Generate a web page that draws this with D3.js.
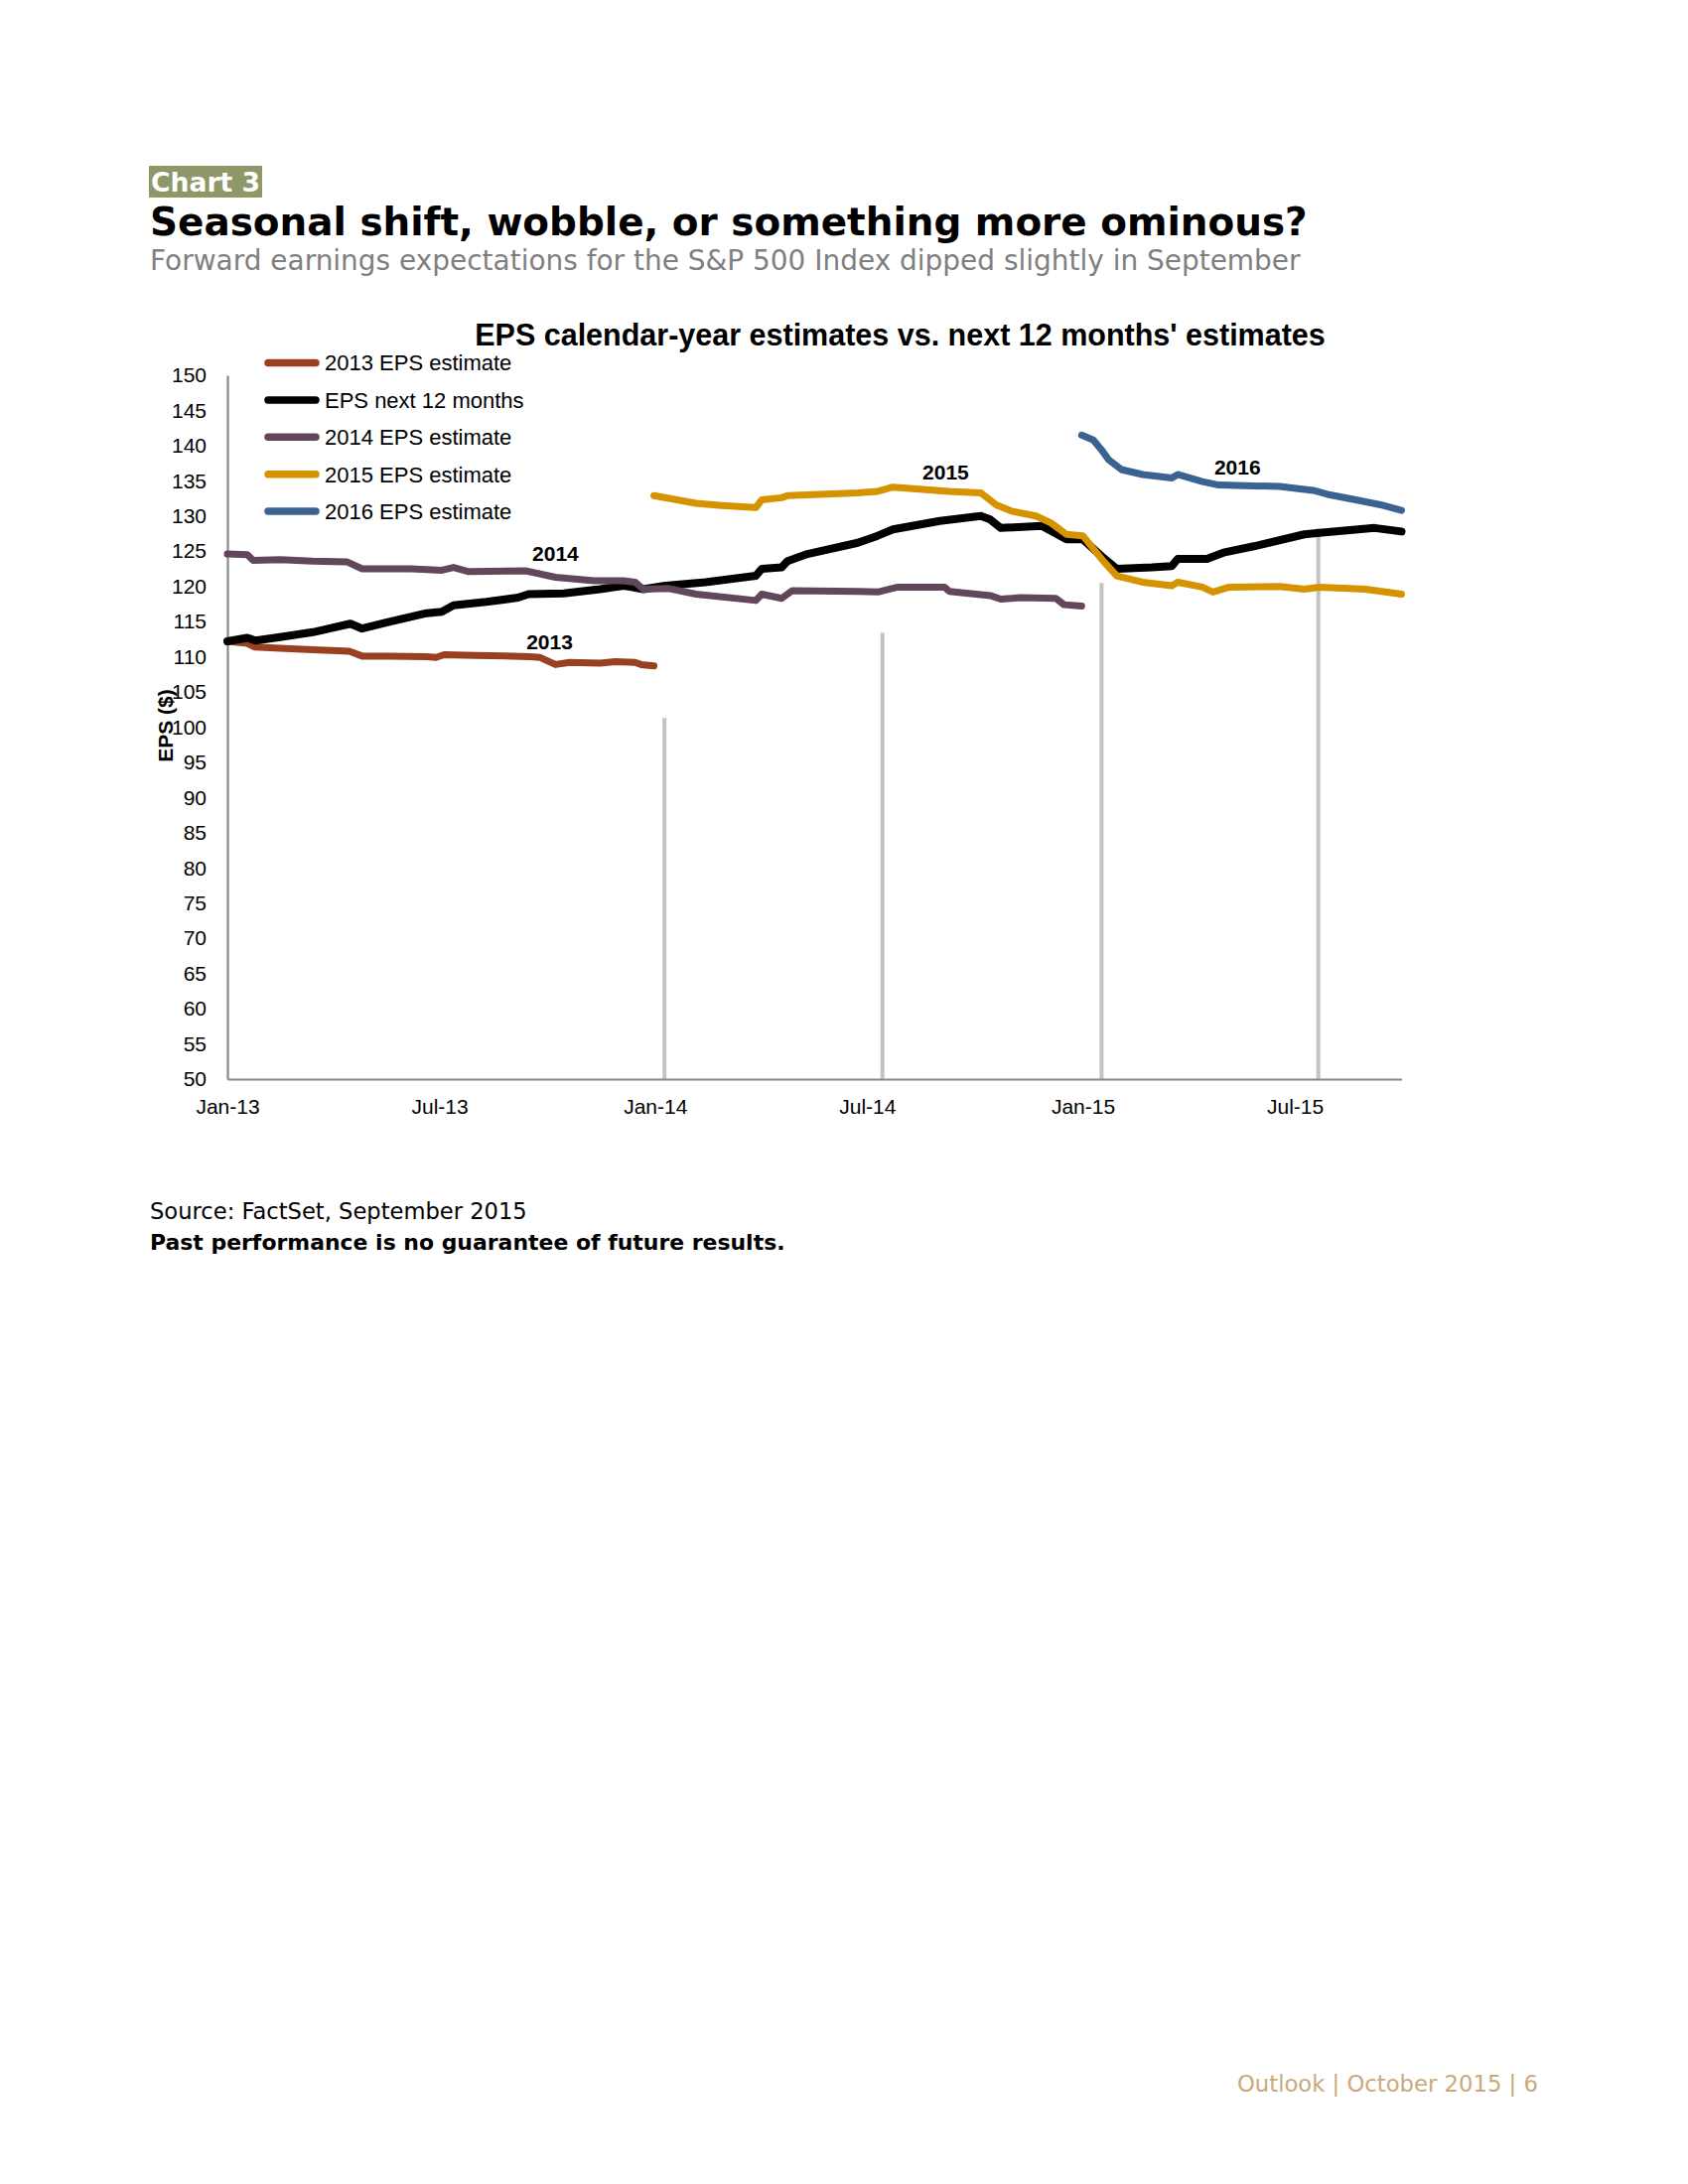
<!DOCTYPE html>
<html><head><meta charset="utf-8">
<script src="https://cdn.jsdelivr.net/npm/d3@7"></script>
<style>body{margin:0;background:#fff}</style>
</head><body>
<svg id="c" width="1700" height="2200" xmlns="http://www.w3.org/2000/svg"></svg>
<script>
// ---------- DATA ----------
const eps2013 = [
  ["2013-01-01",112.2],["2013-01-18",111.9],["2013-01-24",111.4],["2013-02-15",111.2],
  ["2013-03-15",111.0],["2013-04-15",110.8],["2013-04-26",110.1],["2013-05-20",110.1],
  ["2013-06-20",110.0],["2013-06-28",109.9],["2013-07-05",110.3],["2013-08-01",110.2],
  ["2013-09-01",110.1],["2013-09-16",110.0],["2013-09-25",109.9],["2013-10-08",108.9],
  ["2013-10-20",109.2],["2013-11-15",109.1],["2013-11-28",109.3],["2013-12-15",109.2],
  ["2013-12-20",108.9],["2013-12-31",108.7]
];
const epsNext12 = [
  ["2013-01-01",112.2],["2013-01-18",112.7],["2013-01-25",112.3],["2013-02-15",112.8],
  ["2013-03-15",113.5],["2013-04-16",114.7],["2013-04-26",114.0],["2013-05-20",115.0],
  ["2013-06-20",116.2],["2013-07-03",116.4],["2013-07-13",117.3],["2013-08-10",117.8],
  ["2013-09-06",118.4],["2013-09-15",118.9],["2013-10-15",119.0],["2013-11-15",119.6],
  ["2013-12-05",120.1],["2013-12-12",119.9],["2013-12-22",119.6],["2014-01-10",120.1],
  ["2014-02-13",120.6],["2014-03-28",121.5],["2014-04-02",122.5],["2014-04-19",122.7],
  ["2014-04-24",123.6],["2014-05-11",124.6],["2014-06-23",126.2],["2014-07-10",127.2],
  ["2014-07-23",128.1],["2014-09-01",129.3],["2014-10-06",130.0],["2014-10-14",129.5],
  ["2014-10-23",128.3],["2014-11-27",128.6],["2014-12-18",126.7],["2015-01-01",126.7],
  ["2015-01-17",124.3],["2015-01-30",122.5],["2015-03-01",122.7],["2015-03-18",122.9],
  ["2015-03-23",123.9],["2015-04-17",123.9],["2015-05-01",124.8],["2015-05-27",125.7],
  ["2015-07-09",127.4],["2015-07-22",127.6],["2015-09-07",128.3],["2015-09-30",127.8]
];
const eps2014 = [
  ["2013-01-01",124.6],["2013-01-18",124.5],["2013-01-23",123.7],["2013-02-15",123.8],
  ["2013-03-15",123.6],["2013-04-13",123.5],["2013-04-26",122.5],["2013-06-07",122.5],
  ["2013-07-03",122.3],["2013-07-13",122.7],["2013-07-26",122.1],["2013-09-13",122.2],
  ["2013-10-08",121.3],["2013-11-10",120.8],["2013-12-05",120.8],["2013-12-15",120.6],
  ["2013-12-22",119.6],["2014-01-13",119.7],["2014-02-05",118.9],["2014-03-28",118.0],
  ["2014-04-02",118.9],["2014-04-19",118.3],["2014-04-28",119.4],["2014-06-23",119.3],
  ["2014-07-10",119.2],["2014-07-27",119.9],["2014-09-05",119.9],["2014-09-09",119.3],
  ["2014-10-14",118.7],["2014-10-23",118.2],["2014-11-09",118.4],["2014-12-09",118.3],
  ["2014-12-16",117.4],["2014-12-31",117.2]
];
const eps2015 = [
  ["2013-12-31",132.9],["2014-02-05",131.8],["2014-02-27",131.5],["2014-03-28",131.2],
  ["2014-04-02",132.3],["2014-04-19",132.6],["2014-04-24",132.9],["2014-06-23",133.3],
  ["2014-07-10",133.5],["2014-07-23",134.1],["2014-09-09",133.5],["2014-10-06",133.3],
  ["2014-10-19",131.6],["2014-11-01",130.7],["2014-11-22",130.0],["2014-12-05",129.0],
  ["2014-12-18",127.4],["2015-01-01",127.2],["2015-01-17",123.9],["2015-01-30",121.5],
  ["2015-02-21",120.6],["2015-03-18",120.1],["2015-03-23",120.6],["2015-04-13",119.9],
  ["2015-04-22",119.2],["2015-05-06",119.9],["2015-06-18",120.0],["2015-07-09",119.6],
  ["2015-07-22",119.9],["2015-08-30",119.6],["2015-09-30",118.9]
];
const eps2016 = [
  ["2014-12-31",141.5],["2015-01-10",140.8],["2015-01-17",139.4],["2015-01-23",138.0],
  ["2015-02-03",136.6],["2015-02-21",135.9],["2015-03-18",135.4],["2015-03-23",135.9],
  ["2015-04-13",134.9],["2015-04-27",134.4],["2015-06-18",134.2],["2015-07-18",133.6],
  ["2015-07-31",133.0],["2015-08-22",132.3],["2015-09-12",131.6],["2015-09-30",130.8]
];
const barDates  = ["2014-01-09","2014-07-14","2015-01-17","2015-07-21"];
const barValues = [101.3, 113.4, 120.5, 128.2];

const seriesNames  = ["2013 EPS estimate","EPS next 12 months","2014 EPS estimate","2015 EPS estimate","2016 EPS estimate"];
const seriesColors = ["#9a3f20","#000000","#62465a","#d69300","#3b6391"];
const seriesData   = [eps2013, epsNext12, eps2014, eps2015, eps2016];

const yearLabels     = ["2013","2014","2015","2016"];
const yearLabelDates = ["2013-10-03","2013-10-08","2014-09-06","2015-05-13"];
const yearLabelVals  = [112.2, 124.7, 136.2, 136.9];

const xTickDates = ["2013-01-01","2013-07-01","2014-01-01","2014-07-01","2015-01-01","2015-07-01"];
const yTicks = d3.range(50, 151, 5);

// ---------- LAYOUT ----------
const parse = d3.timeParse("%Y-%m-%d");
const svg = d3.select("#c");
const X0 = 229, X1 = 1411.5, Y0 = 1087, Y1 = 378;
const x = d3.scaleTime().domain([parse("2013-01-01"), parse("2015-09-30")]).range([X0, X1]);
const y = d3.scaleLinear().domain([50, 150]).range([Y0, Y1]);

const headFont = "'DejaVu Sans', Verdana, sans-serif";
const chartFont = "'Liberation Sans', Arial, Helvetica, sans-serif";

function fit(sel, target) {
  const n = sel.node();
  const fs = parseFloat(sel.attr("font-size"));
  const w = n.getComputedTextLength();
  sel.attr("font-size", (fs * target / w).toFixed(2));
}

// Header
svg.append("rect").attr("x",150).attr("y",167).attr("width",114).attr("height",32).attr("fill","#8d9768");
fit(svg.append("text").attr("x",152).attr("y",193).attr("font-family",headFont).attr("font-weight","bold")
  .attr("font-size",26).attr("fill","#fff").text("Chart 3"), 110);
fit(svg.append("text").attr("x",151).attr("y",237).attr("font-family",headFont).attr("font-weight","bold")
  .attr("font-size",36).attr("fill","#000").text("Seasonal shift, wobble, or something more ominous?"), 1166);
fit(svg.append("text").attr("x",151).attr("y",272).attr("font-family",headFont)
  .attr("font-size",26).attr("fill","#7f7f7f").text("Forward earnings expectations for the S&P 500 Index dipped slightly in September"), 1159);

// Chart title
fit(svg.append("text").attr("x",906.5).attr("y",348).attr("text-anchor","middle").attr("font-family",chartFont)
  .attr("font-weight","bold").attr("font-size",25).attr("fill","#000")
  .text("EPS calendar-year estimates vs. next 12 months' estimates"), 857);

// Bars
svg.append("g").selectAll("line").data(barDates).join("line")
  .attr("x1", d => x(parse(d))).attr("x2", d => x(parse(d)))
  .attr("y1", y(50)).attr("y2", (d,i) => y(barValues[i]))
  .attr("stroke","#c3c3c3").attr("stroke-width",4);

// Axes
const yAxis = svg.append("g").attr("transform",`translate(${X0},0)`)
  .call(d3.axisLeft(y).tickValues(yTicks).tickSize(0).tickSizeOuter(0).tickPadding(21));
const xAxis = svg.append("g").attr("transform",`translate(0,${Y0})`)
  .call(d3.axisBottom(x).tickValues(xTickDates.map(parse)).tickFormat(d3.timeFormat("%b-%y"))
    .tickSize(0).tickSizeOuter(0).tickPadding(20));
[yAxis, xAxis].forEach(a => {
  a.select(".domain").attr("stroke","#888").attr("stroke-width",2.2);
  a.selectAll("text").attr("font-family",chartFont).attr("font-size",21).attr("fill","#000");
});

// Y axis title
svg.append("text").attr("transform","translate(174,731) rotate(-90)").attr("text-anchor","middle")
  .attr("font-family",chartFont).attr("font-weight","bold").attr("font-size",21).attr("fill","#000").text("EPS ($)");

// Lines
const line = d3.line().x(d => x(parse(d[0]))).y(d => y(d[1]));
svg.append("g").selectAll("path").data(seriesData).join("path")
  .attr("d", line).attr("fill","none")
  .attr("stroke",(d,i) => seriesColors[i])
  .attr("stroke-width",(d,i) => i === 1 ? 8 : 7)
  .attr("stroke-linejoin","round").attr("stroke-linecap","round");

// Year labels
svg.append("g").selectAll("text").data(yearLabels).join("text")
  .attr("x",(d,i) => x(parse(yearLabelDates[i]))).attr("y",(d,i) => y(yearLabelVals[i]))
  .attr("dy","0.36em").attr("text-anchor","middle").attr("font-family",chartFont)
  .attr("font-weight","bold").attr("font-size",21).attr("fill","#000").text(d => d);

// Legend
const lg = svg.append("g").selectAll("g").data(seriesNames).join("g")
  .attr("transform",(d,i) => `translate(0,${365.5 + i*37.4})`);
lg.append("line").attr("x1",270).attr("x2",318).attr("y1",0).attr("y2",0)
  .attr("stroke",(d,i) => seriesColors[i]).attr("stroke-width",7.5).attr("stroke-linecap","round");
lg.append("text").attr("x",327).attr("y",0).attr("dy","0.36em").attr("font-family",chartFont)
  .attr("font-size",22).attr("fill","#000").text(d => d);

// Source / footer
fit(svg.append("text").attr("x",151).attr("y",1228).attr("font-family",headFont)
  .attr("font-size",20).attr("fill","#000").text("Source: FactSet, September 2015"), 380);
fit(svg.append("text").attr("x",151).attr("y",1259).attr("font-family",headFont).attr("font-weight","bold")
  .attr("font-size",20).attr("fill","#000").text("Past performance is no guarantee of future results."), 640);
fit(svg.append("text").attr("x",1246).attr("y",2107).attr("font-family",headFont)
  .attr("font-size",20).attr("fill","#c9a97c").text("Outlook | October 2015 | 6"), 303);
</script>
</body></html>
